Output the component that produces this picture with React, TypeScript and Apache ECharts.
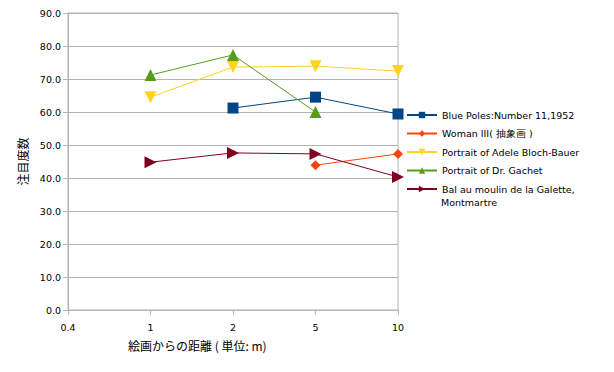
import React, { useEffect, useRef } from "react";
import * as echarts from "echarts";

const categories = ["0.4", "1", "2", "5", "10"];
const yTicks = [0, 10, 20, 30, 40, 50, 60, 70, 80, 90];
const bluePoles = [null, null, 61.2, 64.5, 59.4];
const womanIII = [null, null, null, 43.9, 47.3];
const adele = [null, 64.5, 73.6, 73.9, 72.4];
const gachet = [null, 71.2, 77.3, 60.0, null];
const bal = [null, 44.8, 47.6, 47.3, 40.3];
const seriesNames = [
  "Blue Poles:Number 11,1952",
  "Woman III( 抽象画 )",
  "Portrait of Adele Bloch-Bauer",
  "Portrait of Dr. Gachet",
  "Bal au moulin de la Galette, Montmartre",
];
const colors = ["#004586", "#ff420e", "#ffd320", "#579d1c", "#7e0021"];

const FONT = "DejaVu Sans";

export default function App() {
  const ref = useRef<HTMLDivElement>(null);
  useEffect(() => {
    document.body.style.margin = "0";
    const chart = echarts.init(ref.current!, null, { renderer: "svg" });
    const datas = [bluePoles, womanIII, adele, gachet, bal];
    const symbols = [
      "rect",
      "diamond",
      "path://M0,0 L10,0 L5,9 Z",
      "path://M5,0 L10,9 L0,9 Z",
      "path://M0,0 L9,5 L0,10 Z",
    ];
    const sizes = [11, 10, 12, 12, 12];
    chart.setOption({
      animation: false,
      backgroundColor: "#ffffff",
      grid: {
        left: 68,
        right: 216,
        top: 13,
        bottom: 62,
        show: true,
        borderColor: "#b3b3b3",
        borderWidth: 1,
      },
      legend: {
        orient: "vertical",
        left: 401,
        top: 103,
        itemWidth: 30,
        itemHeight: 8,
        itemGap: 4.5,
        textStyle: { fontFamily: FONT, fontSize: 9.5, color: "#000", lineHeight: 14 },
        formatter: (n: string) =>
          n.startsWith("Bal") ? "Bal au moulin de la Galette," : n,
        data: seriesNames,
      },
      xAxis: {
        type: "category",
        data: categories,
        boundaryGap: false,
        axisLine: { lineStyle: { color: "#b3b3b3" } },
        axisTick: { show: true, length: 5, lineStyle: { color: "#b3b3b3" } },
        axisLabel: { fontFamily: FONT, fontSize: 9.5, color: "#000", margin: 12 },
        splitLine: { show: false },
      },
      yAxis: {
        type: "value",
        min: yTicks[0],
        max: yTicks[yTicks.length - 1],
        interval: 10,
        name: "注目度数",
        nameLocation: "middle",
        nameGap: 37,
        nameTextStyle: { fontFamily: "Noto Sans CJK JP", fontSize: 12, color: "#000" },
        axisLine: { show: true, lineStyle: { color: "#b3b3b3" } },
        axisTick: { show: true, length: 5, lineStyle: { color: "#b3b3b3" } },
        axisLabel: {
          fontFamily: FONT,
          fontSize: 9.5,
          color: "#000",
          margin: 7,
          formatter: (v: number) => v.toFixed(1),
        },
        splitLine: { lineStyle: { color: "#b3b3b3" } },
      },
      graphic: [
        {
          type: "text",
          left: 128,
          top: 339,
          style: {
            text: "絵画からの距離 ( 単位: m)",
            fontFamily: "Noto Sans CJK JP",
            fontSize: 12,
            fill: "#000",
          },
        },
        {
          type: "text",
          left: 441,
          top: 197,
          style: {
            text: "Montmartre",
            fontFamily: FONT,
            fontSize: 9.5,
            fill: "#000",
          },
        },
      ],
      series: seriesNames.map((name, i) => ({
        name,
        type: "line",
        data: datas[i],
        symbol: symbols[i],
        symbolSize: sizes[i],
        showSymbol: true,
        connectNulls: false,
        itemStyle: { color: colors[i] },
        lineStyle: { color: colors[i], width: 1 },
      })),
    });
    return () => chart.dispose();
  }, []);
  return <div ref={ref} style={{ width: 614, height: 372 }} />;
}
